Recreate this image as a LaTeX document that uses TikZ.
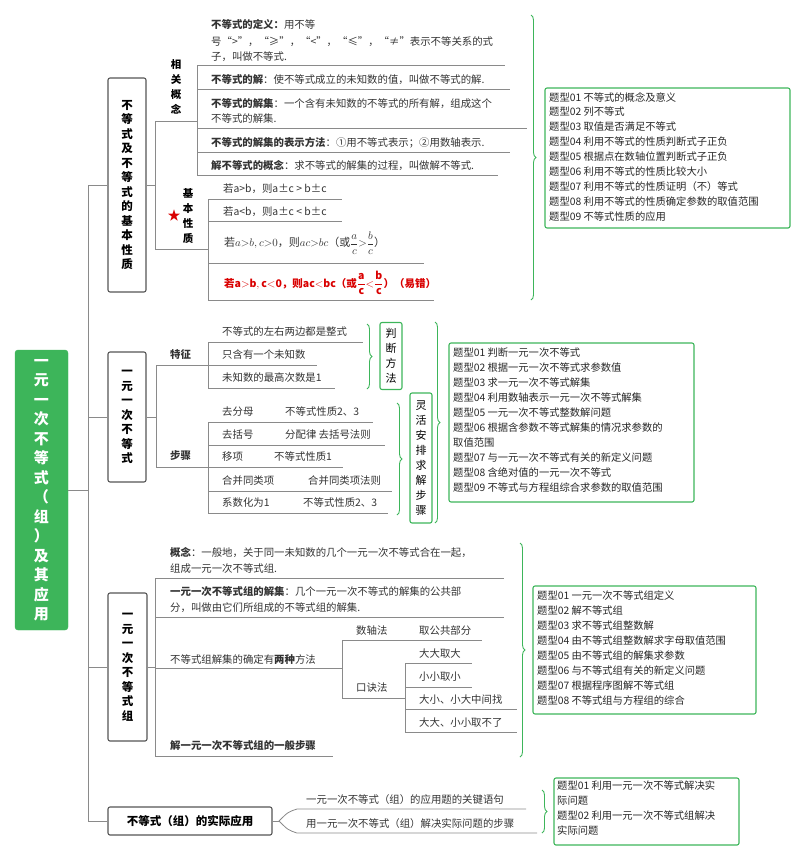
\documentclass[tikz,border=0pt]{standalone}
\usepackage{fontspec}
\setmainfont{Noto Sans CJK SC}
\newfontfamily\cjserif{Noto Sans CJK SC}
\usetikzlibrary{decorations.pathreplacing}
\definecolor{gr}{HTML}{3DB55A}
\definecolor{ln}{HTML}{8A8A8A}
\definecolor{bx}{HTML}{555555}
\tikzset{
 ln/.style={draw=ln,line width=0.8pt},
 txt/.style={anchor=west,inner sep=0pt,font=\fontsize{10.4}{11}\selectfont,text=black!80},
 btxt/.style={txt,font=\fontsize{10.4}{11}\selectfont\bfseries},
 cbox/.style={draw=bx,line width=1.1pt,rounded corners=2pt,inner sep=0pt},
 vlab/.style={font=\fontsize{11.5}{14.5}\selectfont\bfseries,align=center,inner sep=0pt,text width=12pt},
 gbox/.style={draw=gr,line width=1.1pt,rounded corners=2pt},
 brc/.style={draw=gr,line width=0.9pt,decorate,decoration={brace,amplitude=5pt}},
 typ/.style={anchor=north west,inner sep=0pt,align=left,font=\fontsize{10.3}{14.9}\selectfont,text=black!85},
}
\begin{document}
\begin{tikzpicture}[x=1pt,y=-1pt]
\useasboundingbox (0,0) rectangle (800,860);
% root
\node[fill=gr,draw=gr,rounded corners=3pt,minimum width=53pt,minimum height=280pt,inner sep=0pt] (root) at (41.5,490) {};
\node[font=\fontsize{15}{19.5}\selectfont\bfseries,text=white,align=center,text width=15pt,inner sep=0pt] at (root) {一\\元\\一\\次\\不\\等\\式\\（\\组\\）\\及\\其\\应\\用};
\draw[ln] (root.east) -- (88,490);
\draw[ln] (88,185) -- (88,821);
% box1
\node[cbox,minimum width=38pt,minimum height=214pt] (b1) at (127,185) {};
\node[vlab] at (b1) {不\\等\\式\\及\\不\\等\\式\\的\\基\\本\\性\\质};
\draw[ln] (88,185) -- (b1.west);
\draw[ln] (b1.east) -- (155,185);
\draw[ln] (155,121) -- (155,249);
\draw[ln] (155,121) -- (197,121);
\node[vlab,font=\fontsize{10.5}{15}\selectfont\bfseries] at (176,87) {相\\关\\概\\念};
\draw[ln] (197,65) -- (197,175);
\draw[ln] (197,65) -- (505,65);
\draw[ln] (197,89) -- (510,89);
\draw[ln] (197,128) -- (527,128);
\draw[ln] (197,152) -- (510,152);
\draw[ln] (197,175) -- (498,175);
\node[txt] at (211,25) {\textbf{不等式的定义：}用不等};
\node[txt] at (211,42) {号“>”，“≥”，“<”，“≤”，“≠”表示不等关系的式};
\node[txt] at (211,57) {子，叫做不等式.};
\node[txt] at (211,80) {\textbf{不等式的解}：使不等式成立的未知数的值，叫做不等式的解.};
\node[txt] at (211,104) {\textbf{不等式的解集}：一个含有未知数的不等式的所有解，组成这个};
\node[txt] at (211,119) {不等式的解集.};
\node[txt] at (211,143) {\textbf{不等式的解集的表示方法}：①用不等式表示；②用数轴表示.};
\node[txt] at (211,166) {\textbf{解不等式的概念}：求不等式的解集的过程，叫做解不等式.};
\draw[ln] (155,249) -- (208,249);
\node[vlab,font=\fontsize{10.5}{15}\selectfont\bfseries] at (188,216) {基\\本\\性\\质};
\node[text=red!85!black,font=\fontsize{13}{13}\selectfont,inner sep=0pt] at (174,216) {★};
\draw[ln] (208,199) -- (208,300);
\draw[ln] (208,199) -- (342,199);
\draw[ln] (208,221) -- (342,221);
\draw[ln] (208,263) -- (424,263);
\draw[ln] (208,300) -- (434,300);
\node[txt] at (223,189) {若a>b，则a±c > b±c};
\node[txt] at (223,212) {若a<b，则a±c < b±c};
\node[txt,font=\fontsize{11}{12}\selectfont] at (224,243) {若$a{>}b,c{>}0$，则$ac{>}bc$（或$\displaystyle\frac{a}{c}{>}\frac{b}{c}$）};
\node[txt,text=red!85!black,font=\fontsize{10.5}{12}\selectfont\bfseries] at (224,283) {若$\mathbf{a{>}b,c{<}0}$，则$\mathbf{ac{<}bc}$（或$\displaystyle\mathbf{\frac{a}{c}{<}\frac{b}{c}}$）（易错）};
\draw[brc] (531,15) -- (531,300);
\node[gbox,minimum width=245pt,minimum height=140pt] (t1) at (667.5,158) {};
\node[typ] at (549,92) {题型01 不等式的概念及意义\\题型02 列不等式\\题型03 取值是否满足不等式\\题型04 利用不等式的性质判断式子正负\\题型05 根据点在数轴位置判断式子正负\\题型06 利用不等式的性质比较大小\\题型07 利用不等式的性质证明（不）等式\\题型08 利用不等式的性质确定参数的取值范围\\题型09 不等式性质的应用};
% box2
\node[cbox,minimum width=38pt,minimum height=130pt] (b2) at (127,417) {};
\node[vlab] at (b2) {一\\元\\一\\次\\不\\等\\式};
\draw[ln] (88,417) -- (b2.west);
\draw[ln] (b2.east) -- (156,417);
\draw[ln] (156,365) -- (156,467);
\draw[ln] (156,365) -- (208,365);
\node[btxt] at (170,355) {特征};
\draw[ln] (208,342) -- (208,388);
\draw[ln] (208,342) -- (363,342);
\draw[ln] (208,365) -- (317,365);
\draw[ln] (208,388) -- (335,388);
\node[txt] at (222,332) {不等式的左右两边都是整式};
\node[txt] at (222,355) {只含有一个未知数};
\node[txt] at (222,378) {未知数的最高次数是1};
\draw[brc] (367,324) -- (367,389);
\node[gbox,minimum width=22pt,minimum height=67pt,inner sep=0pt] (pd) at (391,356) {};
\node[vlab,font=\fontsize{11}{15}\selectfont] at (pd) {判\\断\\方\\法};
\draw[ln] (156,467) -- (208,467);
\node[btxt] at (170,456) {步骤};
\draw[ln] (208,422) -- (208,513);
\draw[ln] (208,422) -- (373,422);
\draw[ln] (208,445) -- (385,445);
\draw[ln] (208,467) -- (343,467);
\draw[ln] (208,491) -- (392,491);
\draw[ln] (208,513) -- (388,513);
\node[txt] at (222,412) {去分母}; \node[txt] at (285,412) {不等式性质2、3};
\node[txt] at (222,435) {去括号}; \node[txt] at (285,435) {分配律 去括号法则};
\node[txt] at (222,457) {移项}; \node[txt] at (274,457) {不等式性质1};
\node[txt] at (222,481) {合并同类项}; \node[txt] at (308,481) {合并同类项法则};
\node[txt] at (222,503) {系数化为1}; \node[txt] at (303,503) {不等式性质2、3};
\draw[brc] (397,403) -- (397,515);
\node[gbox,minimum width=22pt,minimum height=130pt,inner sep=0pt] (lh) at (421,458) {};
\node[vlab,font=\fontsize{11}{15}\selectfont] at (lh) {灵\\活\\安\\排\\求\\解\\步\\骤};
\draw[brc] (435,322) -- (435,523);
\node[gbox,minimum width=245pt,minimum height=159pt] (t2) at (571.5,422.5) {};
\node[typ] at (453,348) {题型01 判断一元一次不等式\\题型02 根据一元一次不等式求参数值\\题型03 求一元一次不等式解集\\题型04 利用数轴表示一元一次不等式解集\\题型05 一元一次不等式整数解问题\\题型06 根据含参数不等式解集的情况求参数的\\取值范围\\题型07 与一元一次不等式有关的新定义问题\\题型08 含绝对值的一元一次不等式\\题型09 不等式与方程组综合求参数的取值范围};
% box3
\node[cbox,minimum width=39pt,minimum height=148pt] (b3) at (127.5,667) {};
\node[vlab] at (b3) {一\\元\\一\\次\\不\\等\\式\\组};
\draw[ln] (88,667) -- (b3.west);
\draw[ln] (b3.east) -- (155,667);
\draw[ln] (155,578) -- (155,756);
\draw[ln] (155,578) -- (504,578);
\draw[ln] (155,617) -- (504,617);
\draw[ln] (155,668) -- (342,668);
\draw[ln] (155,756) -- (333,756);
\node[txt] at (170,553) {\textbf{概念}：一般地，关于同一未知数的几个一元一次不等式合在一起，};
\node[txt] at (170,569) {组成一元一次不等式组.};
\node[txt] at (170,592) {\textbf{一元一次不等式组的解集}：几个一元一次不等式的解集的公共部};
\node[txt] at (170,608) {分，叫做由它们所组成的不等式组的解集.};
\node[txt] at (170,660) {不等式组解集的确定有\textbf{两种}方法};
\node[btxt] at (170,746) {解一元一次不等式组的一般步骤};
\draw[ln] (342,640) -- (342,698);
\draw[ln] (342,640) -- (482,640);
\draw[ln] (342,698) -- (405,698);
\node[txt] at (356,631) {数轴法}; \node[txt] at (419,631) {取公共部分};
\node[txt] at (356,688) {口诀法};
\draw[ln] (405,663) -- (405,732);
\draw[ln] (405,663) -- (472,663);
\draw[ln] (405,687) -- (472,687);
\draw[ln] (405,709) -- (517,709);
\draw[ln] (405,732) -- (517,732);
\node[txt] at (419,654) {大大取大};
\node[txt] at (419,677) {小小取小};
\node[txt] at (419,700) {大小、小大中间找};
\node[txt] at (419,723) {大大、小小取不了};
\draw[brc] (520,543) -- (520,757);
\node[gbox,minimum width=223pt,minimum height=128pt] (t3) at (644.5,650) {};
\node[typ] at (537,591) {题型01 一元一次不等式组定义\\题型02 解不等式组\\题型03 求不等式组整数解\\题型04 由不等式组整数解求字母取值范围\\题型05 由不等式组的解集求参数\\题型06 与不等式组有关的新定义问题\\题型07 根据程序图解不等式组\\题型08 不等式组与方程组的综合};
% box4
\node[cbox,minimum width=164pt,minimum height=28pt] (b4) at (190,821) {};
\node[font=\fontsize{11.5}{12}\selectfont\bfseries] at (b4) {不等式（组）的实际应用};
\draw[ln] (88,821) -- (b4.west);
\draw[ln] (b4.east) -- (279,821);
\draw[ln] (279,821) .. controls (288,812) .. (297,809) -- (526,809);
\draw[ln] (279,821) .. controls (288,830) .. (297,833) -- (537,833);
\node[txt] at (306,800) {一元一次不等式（组）的应用题的关键语句};
\node[txt] at (306,824) {用一元一次不等式（组）解决实际问题的步骤};
\draw[brc] (542,790) -- (542,833);
\node[gbox,minimum width=185pt,minimum height=67pt] (t4) at (646.5,811.5) {};
\node[typ] at (557,781) {题型01 利用一元一次不等式解决实\\际问题\\题型02 利用一元一次不等式组解决\\实际问题};
\end{tikzpicture}
\end{document}
